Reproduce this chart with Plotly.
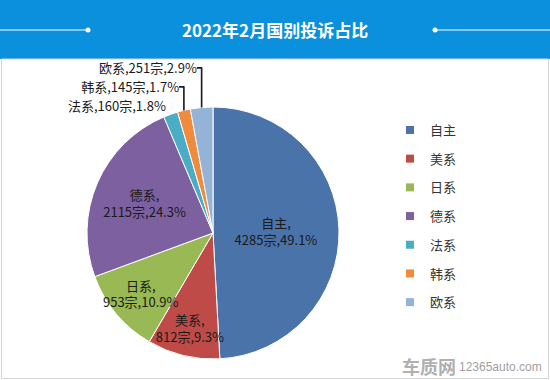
import plotly.graph_objects as go

labels = ["自主", "美系", "日系", "德系", "法系", "韩系", "欧系"]
counts = [4285, 812, 953, 2115, 160, 145, 251]
colors = ["#4A73AA", "#BE4B48", "#98B954", "#7D60A0", "#4BACC6", "#F08A3C", "#95B3D7"]
positions = ["inside", "inside", "inside", "inside", "outside", "outside", "outside"]
title_text = "2022年2月国别投诉占比"

W, H = 550, 380
FONT = "Noto Sans CJK SC, Microsoft YaHei, sans-serif"

fig = go.Figure()
fig.add_trace(go.Pie(
    labels=labels, values=counts, sort=False, direction="clockwise", rotation=0,
    marker=dict(colors=colors, line=dict(color="white", width=1)),
    texttemplate=["%{label},<br>%{value}宗,%{percent:.1%}"] * 4 + ["%{label},%{value}宗,%{percent:.1%}"] * 3,
    textposition=positions, insidetextorientation="horizontal",
    textfont=dict(family=FONT, size=13, color="#1a1a1a"),
    showlegend=False, hoverinfo="label+value+percent",
    domain=dict(x=[(213 - 126) / W, (213 + 126) / W], y=[(147 - 126) / H, (147 + 126) / H]),
))

for lab, col in zip(labels, colors):
    fig.add_trace(go.Scatter(
        x=[None], y=[None], mode="markers", name=lab, legendgroup=lab,
        marker=dict(symbol="square", size=8, color=col), showlegend=True,
    ))

band_h = 59
fig.update_layout(
    width=W, height=H, margin=dict(l=0, r=0, t=0, b=0),
    paper_bgcolor="white", plot_bgcolor="white",
    font=dict(family=FONT),
    uniformtext=dict(minsize=13, mode="show"),
    xaxis=dict(visible=False), yaxis=dict(visible=False),
    legend=dict(x=390 / W, xanchor="left", y=1 - 115 / H, yanchor="top",
                font=dict(family=FONT, size=13, color="#333333"),
                tracegroupgap=8.8, traceorder="grouped", bgcolor="rgba(0,0,0,0)",
                itemwidth=30),
    shapes=[
        dict(type="rect", xref="paper", yref="paper", x0=0, x1=1, y0=1 - band_h / H, y1=1,
             fillcolor="#0A90DC", line=dict(width=0), layer="below"),
        dict(type="rect", xref="paper", yref="paper", x0=1.5 / W, x1=548.5 / W, y0=1.5 / H, y1=1 - band_h / H,
             fillcolor="rgba(0,0,0,0)", line=dict(color="#d6d6d6", width=1), layer="below"),
        dict(type="line", xref="paper", yref="paper", x0=0, x1=88 / W, y0=1 - 30 / H, y1=1 - 30 / H,
             line=dict(color="white", width=1)),
        dict(type="line", xref="paper", yref="paper", x0=435 / W, x1=1, y0=1 - 30 / H, y1=1 - 30 / H,
             line=dict(color="white", width=1)),
        dict(type="circle", xref="paper", yref="paper", x0=85.5 / W, x1=90.5 / W,
             y0=1 - 32.5 / H, y1=1 - 27.5 / H, fillcolor="white", line=dict(width=0)),
        dict(type="circle", xref="paper", yref="paper", x0=432.5 / W, x1=437.5 / W,
             y0=1 - 32.5 / H, y1=1 - 27.5 / H, fillcolor="white", line=dict(width=0)),
    ],
    annotations=[
        dict(text="<b>" + title_text + "</b>", xref="paper", yref="paper", x=0.5, y=1 - 29 / H,
             xanchor="center", yanchor="middle", showarrow=False,
             font=dict(family=FONT, size=17, color="white")),
        dict(text="<b>车质网</b>", xref="paper", yref="paper", x=458 / W, y=1 - 366 / H,
             xanchor="right", yanchor="middle", showarrow=False,
             font=dict(family=FONT, size=18, color="#b0b0b0")),
        dict(text="12365auto.com", xref="paper", yref="paper", x=544 / W, y=1 - 367 / H,
             xanchor="right", yanchor="middle", showarrow=False,
             font=dict(family="Arial, Liberation Sans, sans-serif", size=12, color="#a0a0a0")),
    ],
)

fig.write_html("out.html", config={"displayModeBar": False},
               post_script="document.body.style.margin='0';document.body.style.overflow='hidden';")
